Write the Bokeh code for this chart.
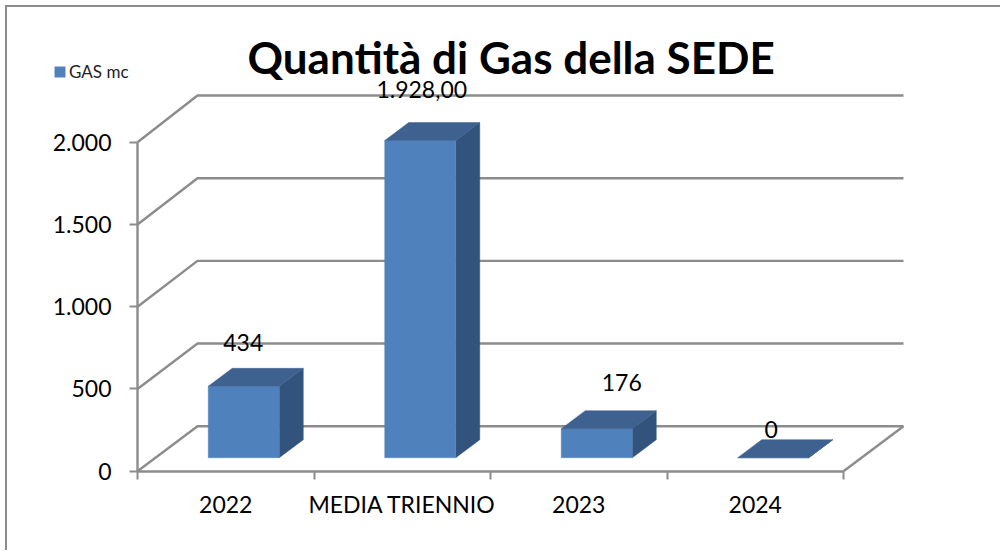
from bokeh.plotting import figure
from bokeh.embed import file_html
from bokeh.resources import INLINE
from bokeh.models import (Range1d, FixedTicker, Legend, LegendItem,
                          ColumnDataSource, Label)
from bokeh.core.properties import value

categories = ["2022", "MEDIA TRIENNIO", "2023", "2024"]
values = [434, 1928, 176, 0]
labels = ["434", "1.928,00", "176", "0"]
y_ticks = [0, 500, 1000, 1500, 2000]
y_tick_labels = {0: "0", 500: "500", 1000: "1.000", 1500: "1.500", 2000: "2.000"}
title_text = "Quantità di Gas della SEDE"
series_name = "GAS mc"

# --- layout: the canvas origin sits at page pixel (7, 7), inside the border ---
OX = 7
W, H = 1002 - OX, 552 - OX
F_L, F_B = 137 - OX, 470.7 - OX   # where data (0, 0) falls on the canvas
PX_X = 176.5          # px per category
PX_Y = 329 / 2000     # px per value unit
DX = 60 / PX_X        # depth offset in data units
DY = 45 / PX_Y
BAR_W = 71 / PX_X
D_FRONT, D_BACK = 0.30, 0.70
BLUE, TOP, SIDE, GRID = "#4f81bd", "#3e618f", "#32537b", "#8c8c8c"
FONT = "Lato"
FS = "23px"

p = figure(width=W, height=H, output_backend="svg", toolbar_location=None,
           x_range=Range1d(-F_L / PX_X, (W - F_L) / PX_X),
           y_range=Range1d(-(H - F_B) / PX_Y, F_B / PX_Y),
           min_border=0, outline_line_color=None,
           background_fill_color="white", border_fill_color="white")
p.styles = {"position": "absolute", "left": "5px", "top": "5px",
            "border-left": f"2px solid {GRID}", "border-top": f"2px solid {GRID}"}
p.grid.visible = False

def back_y(v):
    return v * 1.005 + DY

# walls: back gridlines and diagonals
n = len(categories)
for v in y_ticks:
    p.line([0, DX, n + DX], [v, back_y(v), back_y(v)], line_color=GRID, line_width=2.4)
p.line([n, n + DX], [0, back_y(0)], line_color=GRID, line_width=2.4)

# bars
xc = [i + 0.5 + D_FRONT * DX for i in range(n)]
fl = [x - BAR_W / 2 for x in xc]
fr = [x + BAR_W / 2 for x in xc]
base = D_FRONT * DY
step = (D_BACK - D_FRONT)
tx, ty, sx, sy = [], [], [], []
for l, r, v in zip(fl, fr, values):
    top = v + base
    ox, oy = step * DX, step * DY
    tx.append([l, l + ox, r + ox, r])
    ty.append([top, top + oy, top + oy, top])
    sx.append([r, r + ox, r + ox, r])
    sy.append([base, base + oy, top + oy, top])
p.patches(sx, sy, fill_color=SIDE, line_color=SIDE, line_width=0.5)
front = p.vbar(x=xc, width=BAR_W, bottom=base, top=[v + base for v in values],
               fill_color=BLUE, line_color=BLUE, line_width=0.5)
p.patches(tx, ty, fill_color=TOP, line_color=TOP, line_width=0.5)

# data labels
lab_dx = [-0.5, 1.5, 25, -2]
lab_dy = [43.7, 51, 46.5, 28]
src = ColumnDataSource(dict(x=xc, y=[v + base for v in values], t=labels,
                            xo=lab_dx, yo=[-d for d in lab_dy]))
p.text("x", "y", text="t", source=src, x_offset="xo", y_offset="yo",
       text_font=value(FONT), text_font_size=FS, text_color="black",
       text_align="center", text_baseline="middle", level="overlay")

# axes, drawn inside the full-canvas frame
ax = p.yaxis[0]
ax.fixed_location = 0
ax.ticker = FixedTicker(ticks=y_ticks)
ax.major_label_overrides = y_tick_labels
ax.bounds = (0, 2000)
ax.axis_line_color = GRID
ax.axis_line_width = 2.4
ax.major_tick_line_color = GRID
ax.major_tick_line_width = 2
ax.major_tick_out = 8
ax.major_tick_in = 0
ax.minor_tick_out = 0
ax.minor_tick_in = 0
ax.major_label_text_font = FONT
ax.major_label_text_font_size = FS
ax.major_label_text_color = "black"
ax.major_label_standoff = 18

bx = p.xaxis[0]
bx.fixed_location = 0
centres = [i + 0.5 for i in range(n)]
bx.ticker = FixedTicker(ticks=centres, minor_ticks=list(range(n + 1)))
bx.major_label_overrides = dict(zip(centres, categories))
bx.bounds = (0, n)
bx.axis_line_color = GRID
bx.axis_line_width = 2.4
bx.major_tick_out = 0
bx.major_tick_in = 0
bx.minor_tick_line_color = GRID
bx.minor_tick_line_width = 2
bx.minor_tick_out = 8
bx.minor_tick_in = 0
bx.major_label_text_font = FONT
bx.major_label_text_font_size = FS
bx.major_label_text_color = "black"
bx.major_label_standoff = 11

# title
p.add_layout(Label(x=110 / PX_X, y=(470.7 - 56) / PX_Y, text=title_text, text_font=FONT,
                   text_font_size="44px", text_font_style="bold", text_color="black",
                   text_align="left", text_baseline="middle"))

# legend
leg = Legend(items=[LegendItem(label=series_name, renderers=[front])],
             location=(53 - OX, H - (82 - OX)), orientation="vertical",
             border_line_color=None, background_fill_alpha=0,
             glyph_width=13, glyph_height=13, label_text_font=FONT,
             label_text_font_size="17px", label_text_color="#222222",
             padding=0, margin=0, label_standoff=3, label_height=13)
p.add_layout(leg, "center")

open("out.html", "w").write(file_html(p, INLINE))
